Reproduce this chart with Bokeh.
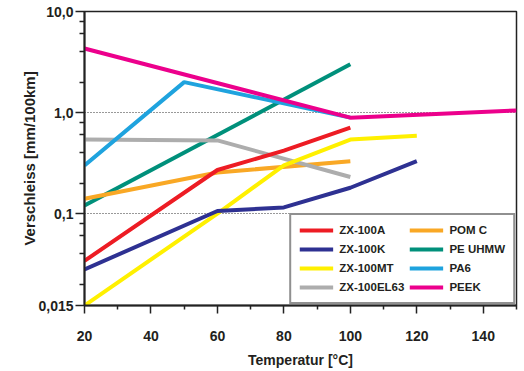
from bokeh.plotting import figure
from bokeh.models import FixedTicker, Legend, LegendItem, Range1d
from bokeh.embed import file_html
from bokeh.resources import INLINE

# ---- data ----
Y_MIN = 0.0123  # bottom of the axis, labelled "0,015"

zx100a_x = [20, 60, 80, 100]
zx100a_y = [0.034, 0.27, 0.42, 0.71]

zx100k_x = [20, 60, 80, 100, 120]
zx100k_y = [0.028, 0.106, 0.115, 0.18, 0.33]

zx100mt_x = [20, 60, 80, 100, 120]
zx100mt_y = [0.0123, 0.10, 0.30, 0.54, 0.59]

zx100el63_x = [20, 60, 100]
zx100el63_y = [0.54, 0.53, 0.23]

pomc_x = [20, 60, 100]
pomc_y = [0.14, 0.255, 0.33]

peuhmw_x = [20, 100]
peuhmw_y = [0.12, 3.0]

pa6_x = [20, 50, 100]
pa6_y = [0.30, 2.0, 0.89]

peek_x = [20, 100, 150]
peek_y = [4.3, 0.89, 1.05]

x_ticks = [20, 40, 60, 80, 100, 120, 140]
x_minor = [30, 50, 70, 90, 110, 130, 150]
y_ticks = [Y_MIN, 0.1, 1.0, 10.0]
y_tick_labels = ["0,015", "0,1", "1,0", "10,0"]
y_minor = [0.02, 0.04, 0.06, 0.08, 0.2, 0.4, 0.6, 0.8, 2, 4, 6, 8]
x_title = "Temperatur [°C]"
y_title = "Verschleiss [mm/100km]"

series = [
    ("PE UHMW", peuhmw_x, peuhmw_y, "#00907B"),
    ("POM C", pomc_x, pomc_y, "#F9A825"),
    ("ZX-100EL63", zx100el63_x, zx100el63_y, "#ADADAD"),
    ("PA6", pa6_x, pa6_y, "#1FA3DE"),
    ("PEEK", peek_x, peek_y, "#EC008C"),
    ("ZX-100MT", zx100mt_x, zx100mt_y, "#FFF000"),
    ("ZX-100K", zx100k_x, zx100k_y, "#2E3192"),
    ("ZX-100A", zx100a_x, zx100a_y, "#ED1C24"),
]
legend_order = ["ZX-100A", "ZX-100K", "ZX-100MT", "ZX-100EL63",
                "POM C", "PE UHMW", "PA6", "PEEK"]

FONT = "Liberation Sans"
TXT = "#231F20"

p = figure(width=524, height=371, y_axis_type="log",
           x_range=Range1d(20, 150), y_range=Range1d(Y_MIN, 10.0),
           output_backend="svg", toolbar_location=None,
           min_border_left=84, min_border_right=8, min_border_top=11,
           min_border_bottom=66)

renderers = {}
for name, xs, ys, col in series:
    renderers[name] = p.line(xs, ys, line_color=col, line_width=4)

p.outline_line_color = "#222222"
p.outline_line_width = 1.5

# x axis
xa = p.xaxis[0]
xa.ticker = FixedTicker(ticks=x_ticks, minor_ticks=x_minor)
xa.axis_label = x_title
xa.major_tick_out = 8
xa.major_tick_in = 0
xa.minor_tick_out = 4
xa.minor_tick_in = 0
xa.major_label_standoff = 17
xa.axis_label_standoff = 8

# y axis
ya = p.yaxis[0]
ya.ticker = FixedTicker(ticks=y_ticks, minor_ticks=y_minor)
ya.major_label_overrides = {v: l for v, l in zip(y_ticks, y_tick_labels)}
ya.axis_label = y_title
ya.major_tick_out = 9
ya.major_tick_in = 0
ya.minor_tick_out = 5
ya.minor_tick_in = 0
ya.major_label_standoff = 2
ya.axis_label_standoff = -3

for ax in (xa, ya):
    ax.axis_line_color = "#222222"
    ax.axis_line_width = 2
    ax.major_tick_line_color = "#222222"
    ax.minor_tick_line_color = "#222222"
    ax.major_tick_line_width = 1.5
    ax.minor_tick_line_width = 1.5
    ax.major_label_text_font = FONT
    ax.major_label_text_font_style = "bold"
    ax.major_label_text_font_size = "14px"
    ax.major_label_text_color = TXT
    ax.axis_label_text_font = FONT
    ax.axis_label_text_font_style = "bold"
    ax.axis_label_text_color = TXT
xa.axis_label_text_font_size = "14px"
ya.axis_label_text_font_size = "15px"

p.xgrid.visible = False
p.ygrid.ticker = FixedTicker(ticks=[0.1, 1.0])
p.ygrid.grid_line_color = "#333333"
p.ygrid.grid_line_dash = "1 2"
p.ygrid.grid_line_width = 1

legend = Legend(
    items=[LegendItem(label=n, renderers=[renderers[n]]) for n in legend_order],
    location="bottom_right", nrows=4, orientation="vertical",
    margin=1, padding=8, spacing=5,
    glyph_width=34, glyph_height=14, label_height=14, label_standoff=6,
    label_text_font=FONT, label_text_font_style="bold",
    label_text_font_size="11.5px", label_text_color=TXT,
    border_line_color="#222222", border_line_width=2,
    background_fill_color="white", background_fill_alpha=1.0,
)
p.add_layout(legend)

open("out.html", "w").write(file_html(p, INLINE))
